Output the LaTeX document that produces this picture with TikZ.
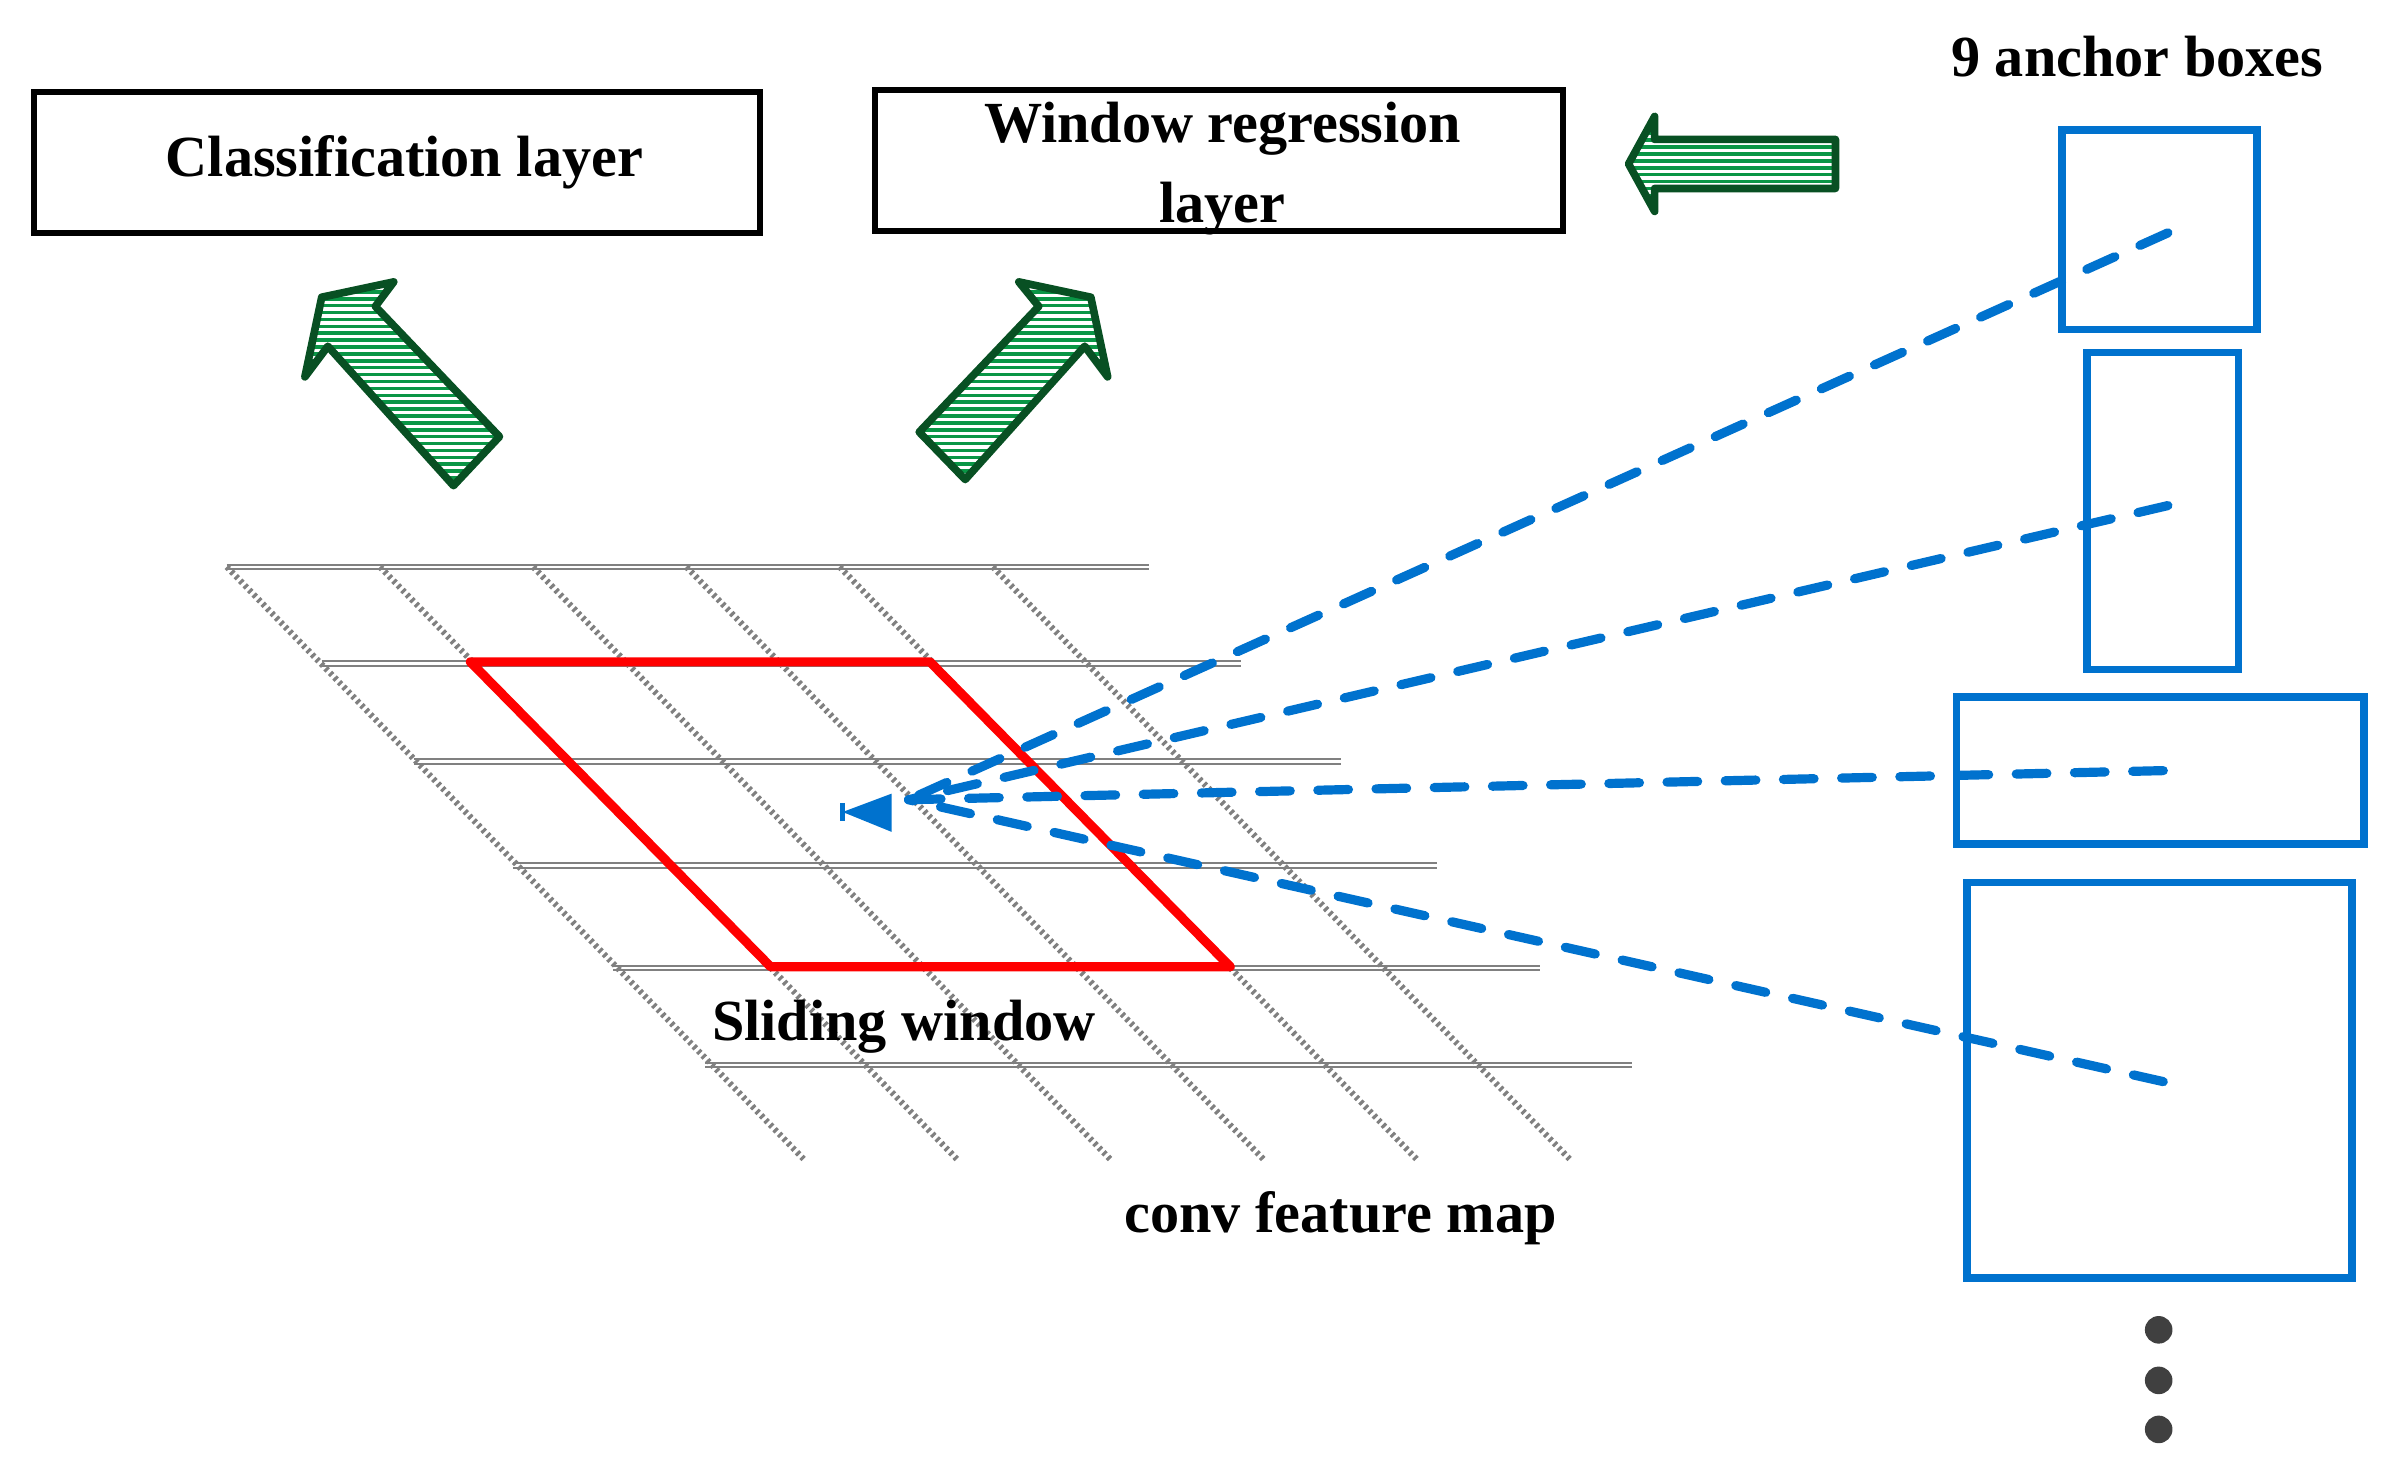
\documentclass[tikz,border=0pt]{standalone}
\usepackage{fontspec}
\setmainfont{Liberation Serif}
\begin{document}
\begin{tikzpicture}[x=1pt,y=-1pt,
  lbl/.style={font=\fontsize{38}{40}\selectfont\bfseries, inner sep=0},
  tbox/.style={draw=black, line width=4pt, minimum width=#1, minimum height=92pt, inner sep=0},
  anchorbox/.style={draw=anchorblue, line width=5pt},
  grid h/.style={draw=gray, double=white, double distance=1.5pt, line width=1.3pt},
  grid d/.style={draw=gray, line width=4pt, dash pattern=on 2pt off 2.2pt},
  ray/.style={draw=anchorblue, line width=6pt, line cap=round, dash pattern=on 20pt off 18pt},
  garrow/.style={draw=darkgreen, line width=5pt, line join=round}]
\definecolor{anchorblue}{RGB}{0,114,206}
\definecolor{darkgreen}{RGB}{8,80,35}
\definecolor{hatchgreen}{RGB}{10,150,70}
\definecolor{dotgray}{RGB}{64,64,64}
\useasboundingbox (0,0) rectangle (1560,957);
% text boxes
\node[tbox=474pt] (cls) at (259,106) {};
\node[lbl] at (264,106) {Classification layer};
\node[tbox=449pt] (reg) at (795.5,105) {};
\node[lbl, align=center, font=\fontsize{38}{52}\selectfont\bfseries] at (798,110) {Window regression\\layer};
\node[lbl] (nine) at (1395,37) {9 anchor boxes};
% grid
\foreach \y/\a/\b in {370/148/750, 433/210/810, 497/270/875, 565/335/938, 632/400/1005, 695/460/1065}
  \draw[grid h] (\a,\y) -- (\b,\y);
\foreach \k in {0,...,5}
  \draw[grid d] (148+100*\k,370) -- (525+100*\k,757);
% red window
\draw[red, line width=6pt, line join=round] (307,432) -- (607,432) -- (803,631) -- (503,631) -- cycle;
\node[lbl] (sw) at (590,670) {Sliding window};
\node[lbl] (cfm) at (875,795) {conv feature map};
% anchor boxes
\draw[anchorbox] (1346,85) rectangle (1473,215);
\draw[anchorbox] (1362,230) rectangle (1461,437);
\draw[anchorbox] (1277,455) rectangle (1543,551);
\draw[anchorbox] (1284,576) rectangle (1535,834);
\coordinate (c1) at (1415,152);
\coordinate (c2) at (1415,330);
\coordinate (c3) at (1412,503);
\coordinate (c4) at (1412,706);
\coordinate (hub) at (593,522);
\foreach \c in {c1,c2,c3,c4} \draw[ray] (\c) -- (hub);
\fill[anchorblue] (550,530) -- (582,518) -- (582,543) -- cycle;
\draw[anchorblue, line width=3pt] (550,524) -- (550,536);
% dots
\foreach \y in {868,901,933} \fill[dotgray] (1409,\y) circle (9);
% green arrows
\def\hatch#1{\begin{scope}\clip #1; \foreach \yy in {60,64.5,...,330} \draw[hatchgreen, line width=2.3pt] (0,\yy) -- (1560,\yy); \end{scope}\draw[garrow] #1;}
\hatch{(245,200) -- (257,184) -- (210,194) -- (199,246) -- (214,226) -- (296,317) -- (326,285) -- cycle}
\hatch{(678,200) -- (665,184) -- (712,194) -- (723,246) -- (708,226) -- (630,313) -- (600,282) -- cycle}
\hatch{(1063,107) -- (1080,76) -- (1080,91) -- (1198,91) -- (1198,123) -- (1080,123) -- (1080,138) -- cycle}
\end{tikzpicture}
\end{document}
